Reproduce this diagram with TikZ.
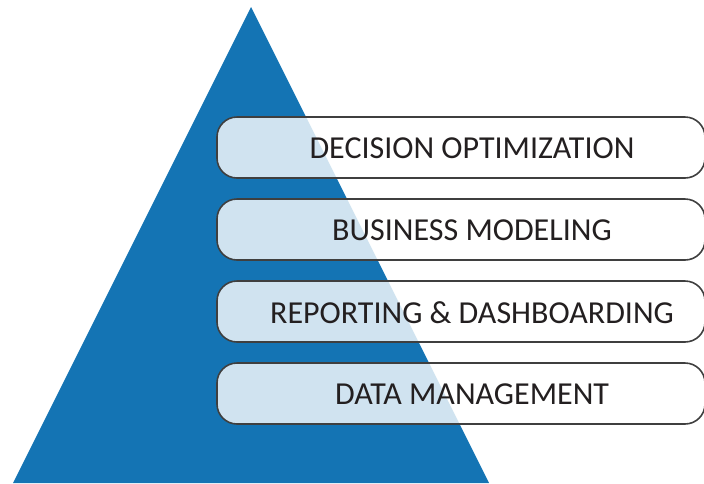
\documentclass[tikz,border=0pt]{standalone}
\usepackage{fontspec}
\setmainfont{Carlito}
\definecolor{pyramidblue}{HTML}{1474B4}
\definecolor{framegray}{HTML}{3F3F3F}
\definecolor{labelink}{HTML}{231F20}
\tikzset{
  layerbox/.style={draw=framegray, line width=1.6pt, fill=white, fill opacity=0.8,
    rounded corners=20pt, minimum width=488pt, minimum height=61pt, inner sep=0pt},
  layerlabel/.style={text=labelink, font=\fontsize{32}{38}\selectfont,
    inner sep=0pt, text depth=0pt}
}
\begin{document}
\begin{tikzpicture}[x=1pt,y=-1pt]
\useasboundingbox (0,0) rectangle (704,483);
% pyramid
\coordinate (apex) at (251,7);
\coordinate (baseL) at (13,483);
\coordinate (baseR) at (489,483);
\fill[pyramidblue] (apex) -- (baseL) -- (baseR) -- cycle;
% layers
\foreach \i/\name/\txt in {0/decision/DECISION OPTIMIZATION,1/business/BUSINESS MODELING,2/reporting/REPORTING \& DASHBOARDING,3/data/DATA MANAGEMENT}{
  \node[layerbox] (\name) at (461,147.5+82*\i) {};
  \node[layerlabel] (\name-label) at (472,148.5+82*\i) {\txt};
}
\end{tikzpicture}
\end{document}
